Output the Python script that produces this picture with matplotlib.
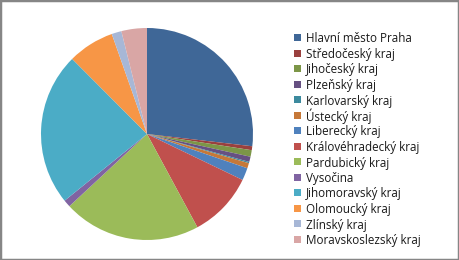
import matplotlib
matplotlib.use("Agg")
import matplotlib.pyplot as plt
from matplotlib.patches import Rectangle

REGIONS = [
    "Hlavní město Praha",
    "Středočeský kraj",
    "Jihočeský kraj",
    "Plzeňský kraj",
    "Karlovarský kraj",
    "Ústecký kraj",
    "Liberecký kraj",
    "Královéhradecký kraj",
    "Pardubický kraj",
    "Vysočina",
    "Jihomoravský kraj",
    "Olomoucký kraj",
    "Zlínský kraj",
    "Moravskoslezský kraj",
]
SHARES = [26.9, 0.6, 1.0, 0.8, 0.2, 0.8, 1.9, 10.0, 21.0, 1.1, 23.4, 7.1, 1.5, 3.9]
COLORS = [
    "#3F6797", "#9A403E", "#7C9647", "#665082", "#3C8A9E", "#C67838",
    "#4F81BD", "#C0504D", "#9BBB59", "#8064A2", "#4BACC6", "#F79646",
    "#A7B7D6", "#D9A6A5",
]

plt.rcParams["font.family"] = ["Open Sans", "DejaVu Sans"]

W, H = 459, 260
fig = plt.figure(figsize=(W / 100, H / 100), dpi=100)

cx, cy, r = 147, 134, 106
ax = fig.add_axes([(cx - r) / W, (H - cy - r) / H, 2 * r / W, 2 * r / H])
ax.pie(SHARES, colors=COLORS, startangle=90, counterclock=False,
       wedgeprops=dict(linewidth=0))
ax.set_xlim(-1, 1)
ax.set_ylim(-1, 1)

# legend, laid out by hand in pixels
top, step, box = 37.5, 15.5, 7
for i, (name, col) in enumerate(zip(REGIONS, COLORS)):
    yc = top + i * step
    fig.patches.append(Rectangle((294 / W, (H - yc - box / 2) / H), box / W, box / H,
                                 transform=fig.transFigure, facecolor=col, edgecolor="none"))
    fig.text(305.5 / W, (H - yc) / H, name, fontsize=8.4, va="center_baseline", ha="left",
             color="#1a1a1a")

fig.patches.append(Rectangle((0, 0), 1, 1, transform=fig.transFigure, fill=False,
                             edgecolor="#868686", linewidth=2.5))

fig.savefig("out.png", dpi=100)
